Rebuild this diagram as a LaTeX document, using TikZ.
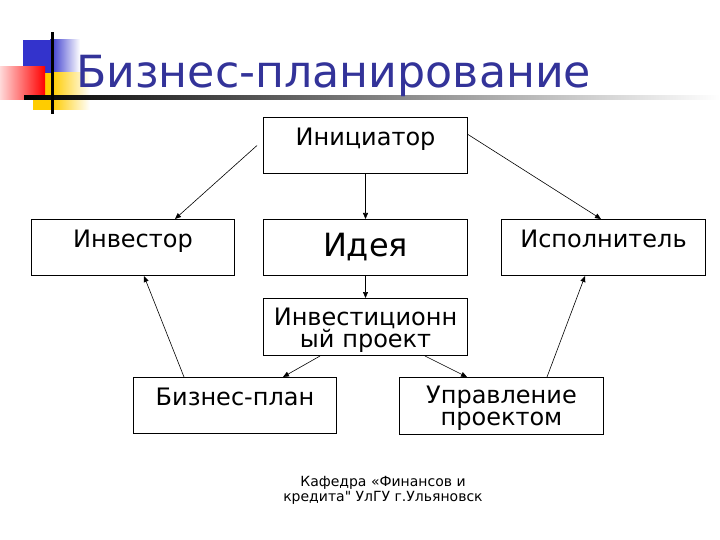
\documentclass[tikz,border=0pt]{standalone}
\usepackage{fontspec}
\setmainfont{DejaVu Sans}
\newfontfamily\footfont{DejaVu Sans}[Ligatures=TeXOff]
\usetikzlibrary{arrows.meta}
\definecolor{titleblue}{RGB}{51,51,153}
\definecolor{decoblue}{RGB}{51,51,204}
\definecolor{decoyellow}{RGB}{255,204,0}
\newcommand{\toplift}[1]{\rule{0pt}{#1}}
\newcommand{\botdrop}{\rule[-6pt]{0pt}{6pt}}
\tikzset{
  boxbase/.style={draw=black, line width=1pt, anchor=north west, inner xsep=0pt, inner ysep=0pt,
    font=\fontsize{24}{22}\selectfont},
  topbox/.style={boxbase, text width=#1, align=center, text height=28pt, text depth=28pt},
  twobox/.style={boxbase, text width=#1, align=center, minimum height=57pt},
  link/.style={line width=0.6pt, -{Triangle[length=6pt,width=5pt]}}
}
\begin{document}
\begin{tikzpicture}[x=1pt, y=-1pt]
\useasboundingbox (0,0) rectangle (720,540);
% decoration
\fill[decoblue] (23,40) rectangle (50,73);
\shade[left color=decoblue, right color=white] (50,40) rectangle (80,73);
\fill[decoyellow] (33,73) rectangle (52,110);
\shade[left color=decoyellow, right color=white] (52,73) rectangle (90,110);
\shade[left color=red!15, right color=red] (0,67) rectangle (45,100);
\shade[left color=black, right color=white] (24,96) rectangle (720,100);
\fill[black] (50.5,32) rectangle (53.5,114);
% title
\node[anchor=base west, inner sep=0pt, text=titleblue, font=\fontsize{44.3}{50}\selectfont] (title) at (76,88) {Бизнес-планирование};
% boxes
\node[topbox=204pt] (init) at (263,117) {Инициатор};
\node[topbox=203pt] (inv) at (31,219) {Инвестор};
\node[boxbase, text width=204pt, align=center, minimum height=56pt, font=\fontsize{32}{36}\selectfont] (idea) at (263,219) {Идея};
\node[topbox=204pt] (isp) at (501,219) {Исполнитель};
\node[twobox=204pt] (proj) at (263,298) {\toplift{25.5pt}Инвестиционн\\ый проект\botdrop};
\node[topbox=203pt] (bp) at (133,377) {Бизнес-план};
\node[twobox=204pt] (upr) at (399,377) {\toplift{23.5pt}Управление\\проектом\botdrop};
% connectors
\draw[link] ([xshift=-6pt]init.west) -- ([xshift=144pt]inv.north west);
\draw[link] ([yshift=11pt]init.east) -- ([xshift=100pt]isp.north west);
\draw[link] (init.south) -- (idea.north);
\draw[link] (idea.south) -- (proj.north);
\draw[link] ([xshift=57pt]proj.south west) -- ([xshift=150pt]bp.north west);
\draw[link] ([xshift=162pt]proj.south west) -- ([xshift=68pt]upr.north west);
\draw[link] ([xshift=51pt]bp.north west) -- ([xshift=113pt]inv.south west);
\draw[link] ([xshift=148pt]upr.north west) -- ([xshift=84pt]isp.south west);
% footer
\node[anchor=north, align=center, inner sep=0pt, font=\footfont\fontsize{14}{15.5}\selectfont] (foot) at (383,476) {Кафедра «Финансов и\\кредита" УлГУ г.Ульяновск};
\end{tikzpicture}
\end{document}
